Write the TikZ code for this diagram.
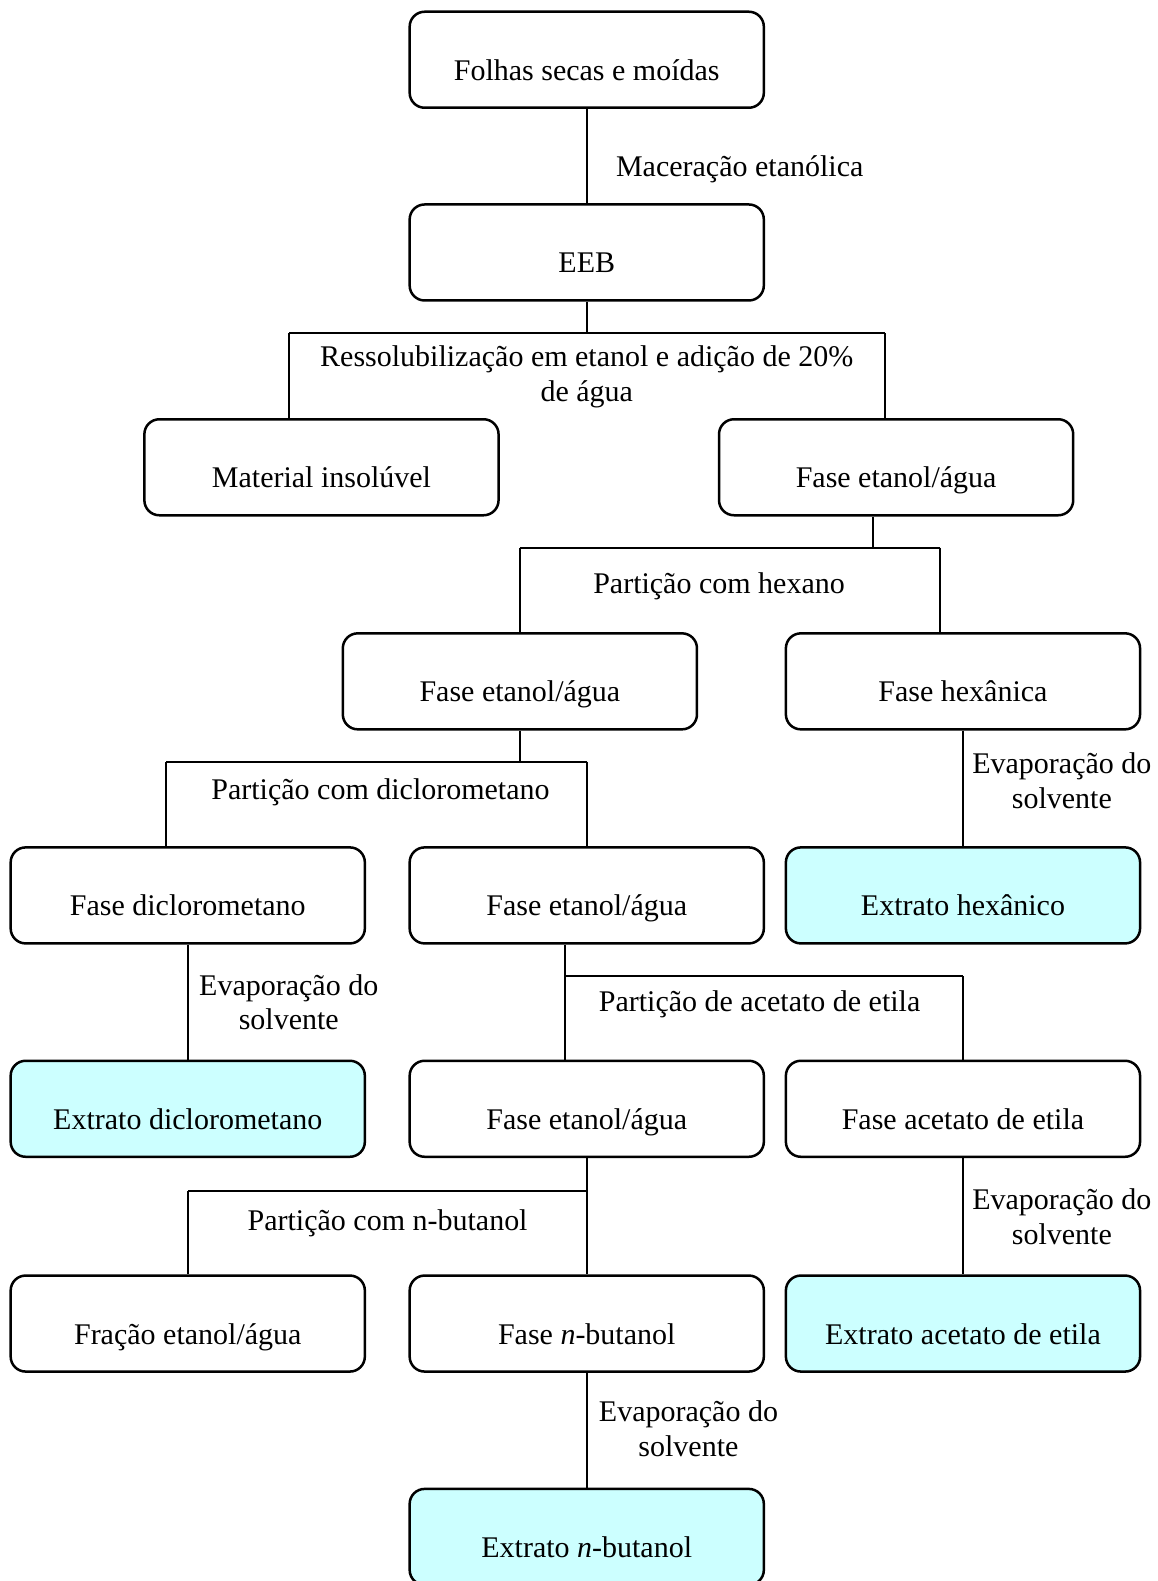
\documentclass[tikz,border=0pt]{standalone}
\usepackage{fontspec}
\setmainfont{Liberation Serif}
\usepackage{tikz}
\definecolor{ciano}{RGB}{204,255,255}

\begin{document}
\begin{tikzpicture}[
        every node/.style={font=\fontsize{12}{13.8}\selectfont},
        caixa/.style={draw=black, line width=1pt, rounded corners=6pt,
                      minimum width=4.98cm, minimum height=1.35cm,
                      text height=16.4pt, text depth=0pt},
        extrato/.style={caixa, fill=ciano},
        rotulo/.style={align=center, inner sep=1pt},
        ligacao/.style={draw=black, line width=0.8pt}
    ]
        \useasboundingbox (0,0) rectangle (16.27,-22.23);

        \node[caixa]   (folhas) at (8.25,  -0.84) {Folhas secas e moídas};
        \node[caixa]   (eeb)    at (8.25,  -3.55) {EEB};
        \node[caixa]   (insol)  at (4.52,  -6.57) {Material insolúvel};
        \node[caixa]   (fea)    at (12.60, -6.57) {Fase etanol/água};
        \node[caixa]   (feb)    at (7.31,  -9.58) {Fase etanol/água};
        \node[caixa]   (hex)    at (13.54, -9.58) {Fase hexânica};
        \node[caixa]   (dcm)    at (2.64, -12.59) {Fase diclorometano};
        \node[caixa]   (fec)    at (8.25, -12.59) {Fase etanol/água};
        \node[extrato] (exhex)  at (13.54,-12.59) {Extrato hexânico};
        \node[extrato] (exdcm)  at (2.64, -15.59) {Extrato diclorometano};
        \node[caixa]   (fed)    at (8.25, -15.59) {Fase etanol/água};
        \node[caixa]   (acet)   at (13.54,-15.59) {Fase acetato de etila};
        \node[caixa]   (frac)   at (2.64, -18.61) {Fração etanol/água};
        \node[caixa]   (but)    at (8.25, -18.61) {Fase \textit{n}-butanol};
        \node[extrato] (exacet) at (13.54,-18.61) {Extrato acetato de etila};
        \node[extrato] (exbut)  at (8.25, -21.61) {Extrato \textit{n}-butanol};

        % rotulos das etapas
        \node[rotulo, anchor=west] (lmac) at (8.62, -2.38) {Maceração etanólica};
        \node[rotulo] (lres) at (8.25, -5.30) {Ressolubilização em etanol e adição de 20\%\\de água};
        \node[rotulo] (lhex) at (10.11, -8.24) {Partição com hexano};
        \node[rotulo] (ldcm) at (5.35, -11.14) {Partição com diclorometano};
        \node[rotulo] (levh) at (14.93,-10.98) {Evaporação do\\solvente};
        \node[rotulo] (levd) at (4.06, -14.09) {Evaporação do\\solvente};
        \node[rotulo] (lace) at (10.68,-14.12) {Partição de acetato de etila};
        \node[rotulo] (lbut) at (5.45, -17.20) {Partição com n-butanol};
        \node[rotulo] (leva) at (14.93,-17.11) {Evaporação do\\solvente};
        \node[rotulo] (levb) at (9.68, -20.09) {Evaporação do\\solvente};

        % pontos de ramificacao
        \coordinate (j1)  at (8.25, -4.68);
        \coordinate (b1l) at (4.07, -4.68);
        \coordinate (b1r) at (12.45,-4.68);
        \coordinate (j2)  at (12.28,-7.70);
        \coordinate (b2l) at (7.31, -7.70);
        \coordinate (b2r) at (13.22,-7.70);
        \coordinate (j3)  at (7.31,-10.71);
        \coordinate (b3l) at (2.34,-10.71);
        \coordinate (b3r) at (8.25,-10.71);
        \coordinate (j4)  at (7.94,-13.73);
        \coordinate (b4r) at (13.54,-13.73);
        \coordinate (j5)  at (8.25,-16.75);
        \coordinate (b5l) at (2.64,-16.75);

        \draw[ligacao] (folhas) -- (eeb);
        \draw[ligacao] (eeb) -- (j1);
        \draw[ligacao] (b1l) -- (b1r);
        \draw[ligacao] (b1l) -- (b1l |- insol.north);
        \draw[ligacao] (b1r) -- (b1r |- fea.north);

        \draw[ligacao] (j2 |- fea.south) -- (j2);
        \draw[ligacao] (b2l) -- (b2r);
        \draw[ligacao] (b2l) -- (feb);
        \draw[ligacao] (b2r) -- (b2r |- hex.north);

        \draw[ligacao] (feb) -- (j3);
        \draw[ligacao] (b3l) -- (b3r);
        \draw[ligacao] (b3l) -- (b3l |- dcm.north);
        \draw[ligacao] (b3r) -- (fec);

        \draw[ligacao] (hex) -- (exhex);
        \draw[ligacao] (dcm) -- (exdcm);

        \draw[ligacao] (j4 |- fec.south) -- (j4 |- fed.north);
        \draw[ligacao] (j4) -- (b4r);
        \draw[ligacao] (b4r) -- (acet);

        \draw[ligacao] (fed) -- (but);
        \draw[ligacao] (j5) -- (b5l);
        \draw[ligacao] (b5l) -- (frac);

        \draw[ligacao] (acet) -- (exacet);
        \draw[ligacao] (but) -- (exbut);
    \end{tikzpicture}
\end{document}
